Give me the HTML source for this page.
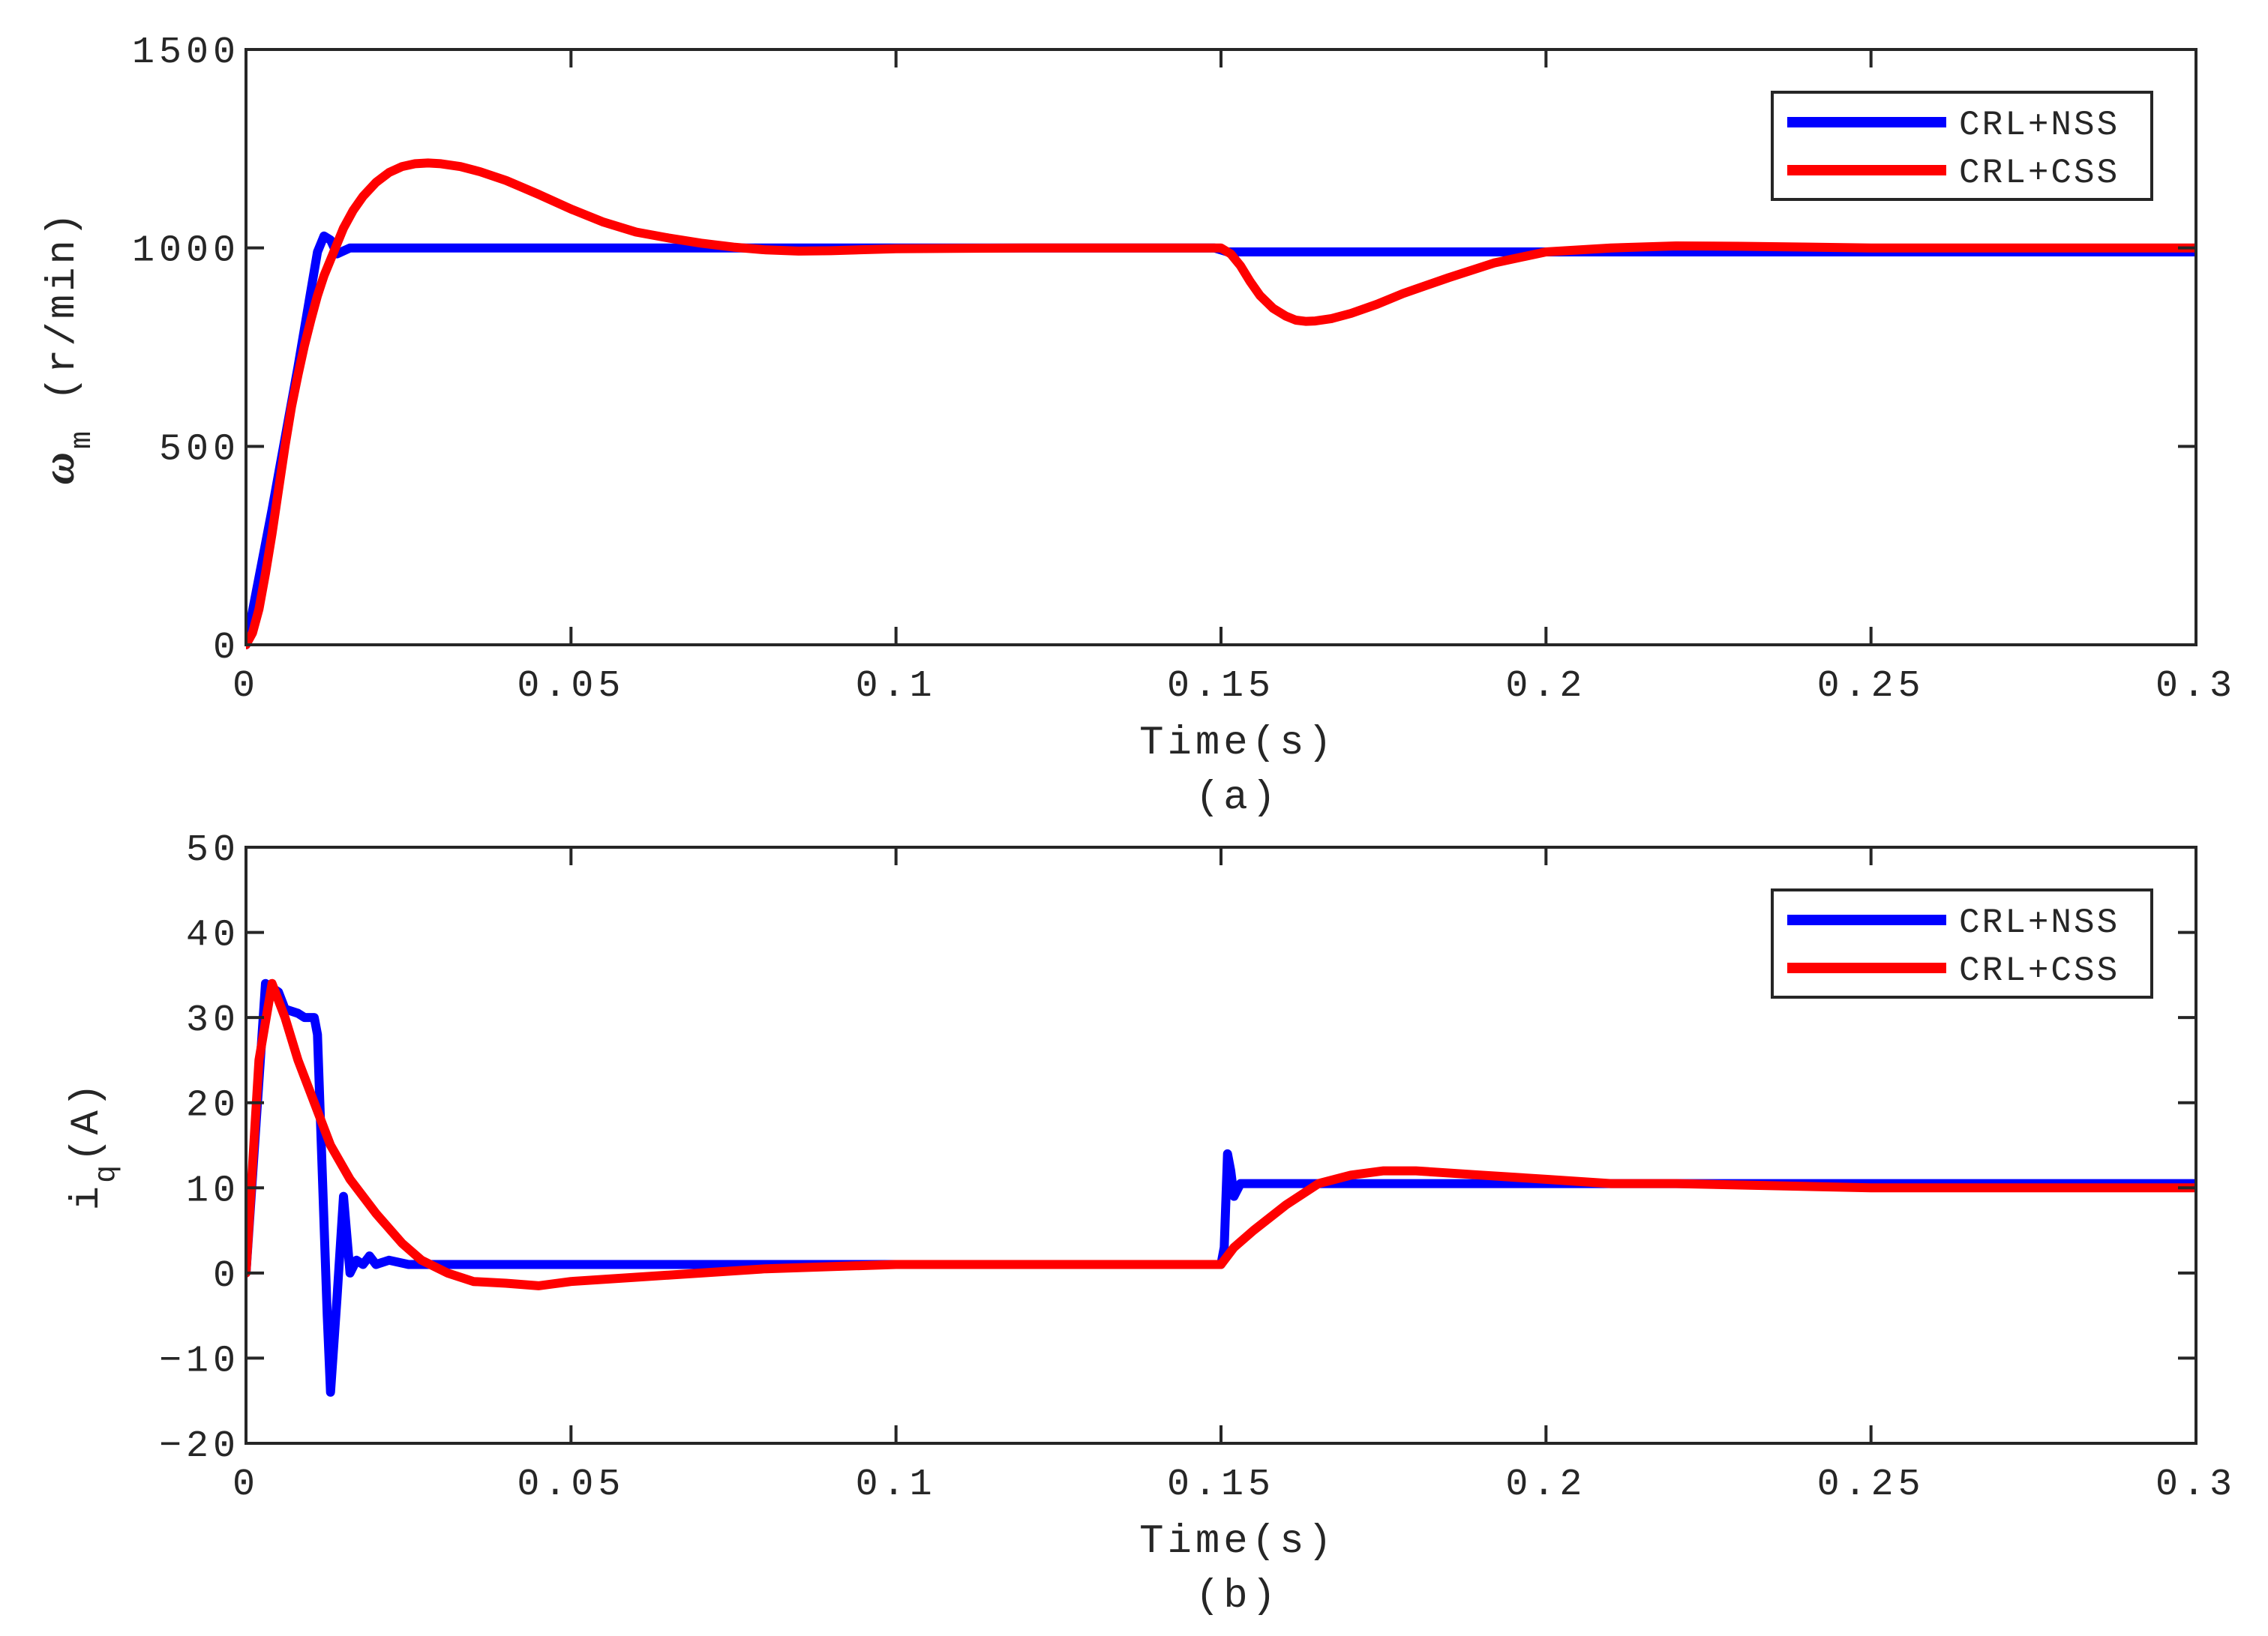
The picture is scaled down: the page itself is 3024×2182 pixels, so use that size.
<!DOCTYPE html>
<html><head><meta charset="utf-8"><style>
html,body{margin:0;padding:0;background:#fff}
svg text{font-family:"Liberation Mono","DejaVu Sans Mono",monospace;fill:#262626}
</style></head><body>
<svg id="chart" width="3024" height="2177" viewBox="0 0 3024 2177" xmlns="http://www.w3.org/2000/svg">
<g id="pa"></g>
<g id="pb"></g>
</svg>
<script>
const xTicks=[0,0.05,0.1,0.15,0.2,0.25,0.3];
const xTickLabels=["0","0.05","0.1","0.15","0.2","0.25","0.3"];
const yTicksA=[0,500,1000,1500];
const yTicksB=[-20,-10,0,10,20,30,40,50];
const speedNssT=[0,0.004,0.008,0.011,0.012,0.013,0.014,0.016,0.02,0.05,0.1,0.149,0.151,0.2,0.25,0.3];
const speedNssV=[0,340,700,990,1030,1020,985,1000,1000,1000,1000,1000,990,990,990,990];
const speedCssT=[0,0.001,0.002,0.003,0.004,0.005,0.006,0.007,0.008,0.009,0.01,0.011,0.012,0.0135,0.015,0.0165,0.018,0.02,0.022,0.024,0.026,0.028,0.03,0.033,0.036,0.04,0.045,0.05,0.055,0.06,0.065,0.07,0.075,0.08,0.085,0.09,0.1,0.12,0.15,0.1515,0.153,0.1545,0.156,0.158,0.16,0.1615,0.163,0.1645,0.167,0.17,0.174,0.178,0.185,0.192,0.2,0.21,0.22,0.23,0.25,0.3];
const speedCssV=[0,30,90,180,280,390,500,600,680,755,820,880,930,990,1050,1095,1130,1165,1190,1205,1212,1214,1212,1205,1192,1170,1135,1098,1065,1040,1025,1012,1002,995,992,993,998,1000,1000,985,955,915,880,848,828,818,815,816,822,835,858,885,925,962,990,1000,1005,1004,1000,1000];
const iqNssT=[0,0.003,0.005,0.006,0.008,0.009,0.0105,0.011,0.0125,0.013,0.014,0.015,0.016,0.017,0.018,0.019,0.02,0.022,0.025,0.03,0.05,0.1,0.15,0.1505,0.151,0.1515,0.152,0.153,0.16,0.2,0.25,0.3];
const iqNssV=[0,34,33,31,30.5,30,30,28,-5,-14,-3,9,0,1.5,1,2,1,1.5,1,1,1,1,1,3,14,12,9,10.5,10.5,10.5,10.5,10.5];
const iqCssT=[0,0.002,0.004,0.006,0.008,0.01,0.013,0.016,0.02,0.024,0.027,0.031,0.035,0.04,0.045,0.05,0.06,0.07,0.08,0.1,0.15,0.152,0.155,0.16,0.165,0.17,0.175,0.18,0.19,0.2,0.21,0.22,0.25,0.3];
const iqCssV=[0,25,34,30,25,21,15,11,7,3.5,1.5,0,-1,-1.2,-1.5,-1,-0.5,0,0.5,1,1,3,5,8,10.5,11.5,12,12,11.5,11,10.5,10.5,10,10];
const NS="http://www.w3.org/2000/svg";
const X0=328,X1=2928;
function mk(p,tag,at){const e=document.createElementNS(NS,tag);for(const k in at)e.setAttribute(k,at[k]);p.appendChild(e);return e;}
function panel(g,yT,yMin,yMax,Y0,Y1,series,cap,legY,ylab){
  const sx=t=>X0+(t-0)/(0.3)*(X1-X0);
  const sy=v=>Y1-(v-yMin)/(yMax-yMin)*(Y1-Y0);
  const clip=mk(g,'clipPath',{id:'c'+Y0});mk(clip,'rect',{x:X0,y:Y0-10,width:X1-X0,height:Y1-Y0+20});
  series.forEach(s=>{
    const pts=s.t.map((t,i)=>sx(t).toFixed(1)+','+sy(s.v[i]).toFixed(1)).join(' ');
    const pl=mk(g,'polyline',{points:pts,fill:'none',stroke:s.c,'stroke-width':12,'stroke-linejoin':'round','stroke-linecap':'round','clip-path':'url(#c'+Y0+')'});
    
    
  });
  const fr=mk(g,'rect',{x:X0,y:Y0,width:X1-X0,height:Y1-Y0,fill:'none',stroke:'#262626','stroke-width':4});
  
  
  xTicks.forEach((t,i)=>{
    const x=sx(t);
    mk(g,'line',{x1:x,y1:Y1,x2:x,y2:Y1-24,stroke:'#262626','stroke-width':4});
    mk(g,'line',{x1:x,y1:Y0,x2:x,y2:Y0+24,stroke:'#262626','stroke-width':4});
    const tx=mk(g,'text',{x:x,y:Y1+68,'font-size':50,'text-anchor':'middle','letter-spacing':6});tx.textContent=xTickLabels[i];
    
    
  });
  yT.forEach(v=>{
    const y=sy(v);
    mk(g,'line',{x1:X0,y1:y,x2:X0+24,y2:y,stroke:'#262626','stroke-width':4});
    mk(g,'line',{x1:X1,y1:y,x2:X1-24,y2:y,stroke:'#262626','stroke-width':4});
    const tx=mk(g,'text',{x:X0-8,y:y+17,'font-size':50,'text-anchor':'end','letter-spacing':6});tx.textContent=String(v).replace('-','\u2212');
    
    
  });
  const xl=mk(g,'text',{x:1650,y:Y1+145,'font-size':54,'text-anchor':'middle','letter-spacing':5});xl.textContent='Time(s)';
  
  
  const cp=mk(g,'text',{x:1650,y:Y1+218,'font-size':54,'text-anchor':'middle','letter-spacing':5});cp.textContent=cap;
  
  
  const lg=mk(g,'g',{});
  
  
  mk(lg,'rect',{x:2363,y:legY,width:506,height:143,fill:'#fff',stroke:'#262626','stroke-width':4});
  series.forEach((s,i)=>{
    const y=legY+40+i*64;
    mk(lg,'line',{x1:2383,y1:y,x2:2595,y2:y,stroke:s.c,'stroke-width':14});
    const t=mk(lg,'text',{x:2612,y:y+16,'font-size':46,'letter-spacing':3});t.textContent=s.label;
    
    
  });
  const yl=mk(g,'text',{transform:'translate('+ylab.x+','+((Y0+Y1)/2)+') rotate(-90)','font-size':54,'text-anchor':'middle','letter-spacing':4});
  
  
  yl.innerHTML=ylab.html;
}
panel(document.getElementById('pa'),yTicksA,0,1500,66,860,
 [{t:speedNssT,v:speedNssV,c:'#0000ff',n:'speed-crl-nss-line',label:'CRL+NSS'},{t:speedCssT,v:speedCssV,c:'#ff0000',n:'speed-crl-css-line',label:'CRL+CSS'}],
 '(a)',123,{x:98,html:'<tspan font-family="Liberation Serif" font-style="italic" font-weight="bold" font-size="60">ω</tspan><tspan dy="22" font-size="40">m</tspan><tspan dy="-22"> (r/min)</tspan>'});
panel(document.getElementById('pb'),yTicksB,-20,50,1130,1925,
 [{t:iqNssT,v:iqNssV,c:'#0000ff',n:'current-crl-nss-line',label:'CRL+NSS'},{t:iqCssT,v:iqCssV,c:'#ff0000',n:'current-crl-css-line',label:'CRL+CSS'}],
 '(b)',1187,{x:130,html:'i<tspan dy="22" font-size="40">q</tspan><tspan dy="-22">(A)</tspan>'});
</script>
</body></html>
